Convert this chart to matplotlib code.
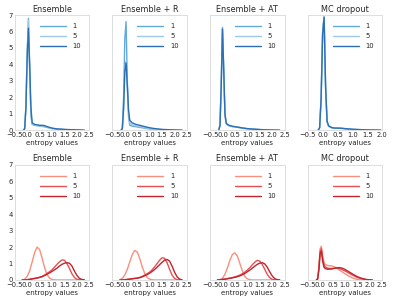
import matplotlib
matplotlib.use("Agg")
import matplotlib.pyplot as plt
import seaborn as sns

sns.set_style("white")
plt.rcParams['font.family'] = ['DejaVu Sans']

titles = ["Ensemble", "Ensemble + R", "Ensemble + AT", "MC dropout"]
labels = ["1", "5", "10"]
xticks_top = [[-0.5, 0.0, 0.5, 1.0, 1.5, 2.0, 2.5]] * 3 + [[-0.5, 0.0, 0.5, 1.0, 1.5, 2.0]]
xticks_bottom = [[-0.5, 0.0, 0.5, 1.0, 1.5, 2.0, 2.5]] * 4
blue_colors = ["#62aadb", "#9dc9e8", "#2a6fb3"]
red_colors = ["#fa8f7c", "#e65055", "#c0242d"]

# ---- top row (shared x grid per panel) ----
x_top = [-0.15, -0.10, -0.05, 0.0, 0.05, 0.10, 0.15, 0.20, 0.30, 0.40, 0.50,
         0.60, 0.70, 0.80, 1.00, 1.20, 1.50, 1.80, 2.00, 2.20, 2.30]
x_top_mc = [-0.15, -0.10, -0.05, 0.0, 0.05, 0.10, 0.15, 0.20, 0.30, 0.40, 0.50,
            0.60, 0.70, 0.80, 1.00, 1.20, 1.50, 1.70, 1.80, 1.90, 1.95]

ens_top_1 = [0, 0.1, 1.5, 4.8, 6.8, 3.6, 0.9, 0.35, 0.3, 0.28, 0.25, 0.23, 0.21, 0.17, 0.1, 0.07, 0.04, 0.02, 0.01, 0.005, 0]
ens_top_5 = [0, 0.1, 1.4, 4.7, 6.7, 3.7, 1.0, 0.38, 0.3, 0.29, 0.27, 0.25, 0.22, 0.18, 0.11, 0.07, 0.04, 0.02, 0.01, 0.005, 0]
ens_top_10 = [0, 0.1, 1.4, 4.4, 6.2, 4.0, 1.4, 0.45, 0.35, 0.33, 0.3, 0.3, 0.28, 0.22, 0.13, 0.08, 0.05, 0.03, 0.02, 0.01, 0]

ensr_top_1 = [0, 0.15, 2.0, 5.6, 6.6, 3.0, 0.8, 0.3, 0.25, 0.22, 0.2, 0.17, 0.15, 0.12, 0.08, 0.05, 0.03, 0.015, 0.01, 0.005, 0]
ensr_top_5 = [0, 0.1, 1.4, 3.7, 4.2, 2.6, 1.0, 0.45, 0.33, 0.28, 0.25, 0.22, 0.2, 0.16, 0.1, 0.06, 0.035, 0.02, 0.01, 0.005, 0]
ensr_top_10 = [0, 0.1, 1.3, 3.6, 4.1, 2.7, 1.2, 0.6, 0.45, 0.38, 0.33, 0.3, 0.26, 0.22, 0.15, 0.1, 0.05, 0.03, 0.015, 0.005, 0]

ensat_top_1 = [0, 0.3, 2.9, 6.25, 3.5, 0.9, 0.4, 0.32, 0.25, 0.22, 0.2, 0.18, 0.15, 0.12, 0.09, 0.07, 0.04, 0.02, 0.01, 0.005, 0]
ensat_top_5 = [0, 0.3, 2.8, 6.2, 3.6, 0.95, 0.42, 0.33, 0.26, 0.23, 0.21, 0.18, 0.16, 0.13, 0.09, 0.07, 0.04, 0.02, 0.01, 0.005, 0]
ensat_top_10 = [0, 0.3, 2.7, 6.15, 3.7, 1.0, 0.45, 0.35, 0.28, 0.24, 0.22, 0.19, 0.17, 0.14, 0.1, 0.07, 0.04, 0.02, 0.01, 0.005, 0]

mc_top_1 = [0, 0.15, 2.0, 6.0, 6.95, 2.5, 0.5, 0.25, 0.15, 0.12, 0.12, 0.12, 0.1, 0.08, 0.05, 0.04, 0.02, 0.01, 0.008, 0.004, 0]
mc_top_5 = [0, 0.15, 2.0, 5.9, 6.9, 2.6, 0.52, 0.26, 0.16, 0.13, 0.12, 0.12, 0.1, 0.08, 0.05, 0.04, 0.02, 0.01, 0.008, 0.004, 0]
mc_top_10 = [0, 0.15, 1.9, 5.8, 6.85, 2.7, 0.55, 0.27, 0.17, 0.13, 0.13, 0.12, 0.11, 0.09, 0.06, 0.04, 0.02, 0.01, 0.008, 0.004, 0]

# ---- bottom row ----
x_bot = [-0.2, -0.1, 0.0, 0.1, 0.2, 0.3, 0.4, 0.5, 0.6, 0.7, 0.8, 0.9, 1.0, 1.1,
         1.2, 1.3, 1.4, 1.5, 1.6, 1.7, 1.8, 1.9, 2.0, 2.1, 2.2, 2.3]

ens_bot_1 = [0, 0.05, 0.22, 0.55, 1.1, 1.67, 2.0, 1.85, 1.33, 0.75, 0.33, 0.11, 0.03, 0.005, 0, 0, 0, 0, 0, 0, 0, 0, 0, 0, 0, 0]
ens_bot_5 = [0, 0, 0.02, 0.05, 0.08, 0.1, 0.13, 0.17, 0.22, 0.3, 0.4, 0.5, 0.62, 0.78, 0.95, 1.1, 1.22, 1.2, 1.0, 0.7, 0.38, 0.15, 0.04, 0.01, 0, 0]
ens_bot_10 = [0, 0, 0.01, 0.03, 0.06, 0.09, 0.12, 0.15, 0.2, 0.27, 0.35, 0.43, 0.52, 0.62, 0.72, 0.85, 0.95, 1.02, 1.05, 1.02, 0.85, 0.55, 0.28, 0.1, 0.03, 0]

ensr_bot_1 = [0, 0.1, 0.3, 0.65, 1.1, 1.55, 1.8, 1.7, 1.3, 0.8, 0.4, 0.15, 0.05, 0.01, 0, 0, 0, 0, 0, 0, 0, 0, 0, 0, 0, 0]
ensr_bot_5 = [0, 0, 0.02, 0.04, 0.06, 0.08, 0.1, 0.12, 0.16, 0.22, 0.3, 0.38, 0.48, 0.62, 0.8, 1.0, 1.2, 1.35, 1.32, 1.05, 0.65, 0.3, 0.1, 0.02, 0, 0]
ensr_bot_10 = [0, 0, 0.01, 0.03, 0.05, 0.07, 0.09, 0.11, 0.14, 0.19, 0.26, 0.33, 0.42, 0.52, 0.64, 0.78, 0.93, 1.08, 1.2, 1.25, 1.15, 0.85, 0.48, 0.2, 0.06, 0]

ensat_bot_1 = [0, 0, 0.1, 0.35, 0.75, 1.2, 1.55, 1.65, 1.45, 1.0, 0.55, 0.22, 0.07, 0.02, 0, 0, 0, 0, 0, 0, 0, 0, 0, 0, 0, 0]
ensat_bot_5 = [0, 0.02, 0.04, 0.06, 0.09, 0.12, 0.15, 0.19, 0.24, 0.3, 0.38, 0.48, 0.6, 0.75, 0.92, 1.08, 1.19, 1.15, 0.95, 0.65, 0.35, 0.14, 0.04, 0.01, 0, 0]
ensat_bot_10 = [0, 0.01, 0.03, 0.05, 0.07, 0.1, 0.13, 0.16, 0.2, 0.25, 0.32, 0.4, 0.5, 0.6, 0.72, 0.84, 0.95, 1.02, 1.05, 0.98, 0.78, 0.5, 0.25, 0.09, 0.02, 0]

x_bot_mc = [-0.15, -0.1, -0.05, 0.0, 0.05, 0.1, 0.15, 0.2, 0.3, 0.4, 0.5, 0.6, 0.7, 0.8,
            0.9, 1.0, 1.1, 1.2, 1.3, 1.4, 1.5, 1.6, 1.7, 1.8, 1.9, 2.0, 2.1]
mc_bot_1 = [0, 0.1, 0.8, 1.9, 2.05, 1.5, 1.1, 0.95, 0.88, 0.86, 0.84, 0.78, 0.68, 0.58, 0.48, 0.38, 0.28, 0.2, 0.13, 0.07, 0.03, 0.01, 0, 0, 0, 0, 0]
mc_bot_5 = [0, 0.08, 0.7, 1.75, 1.9, 1.35, 0.95, 0.8, 0.72, 0.7, 0.7, 0.72, 0.72, 0.68, 0.62, 0.55, 0.47, 0.38, 0.3, 0.22, 0.15, 0.1, 0.06, 0.03, 0.01, 0, 0]
mc_bot_10 = [0, 0.05, 0.6, 1.6, 1.75, 1.15, 0.8, 0.7, 0.65, 0.66, 0.68, 0.72, 0.75, 0.75, 0.71, 0.64, 0.55, 0.46, 0.37, 0.28, 0.2, 0.14, 0.09, 0.05, 0.02, 0.01, 0]

top_x = [x_top, x_top, x_top, x_top_mc]
top_series = [
    [ens_top_1, ens_top_5, ens_top_10],
    [ensr_top_1, ensr_top_5, ensr_top_10],
    [ensat_top_1, ensat_top_5, ensat_top_10],
    [mc_top_1, mc_top_5, mc_top_10],
]
bot_x = [x_bot, x_bot, x_bot, x_bot_mc]
bot_series = [
    [ens_bot_1, ens_bot_5, ens_bot_10],
    [ensr_bot_1, ensr_bot_5, ensr_bot_10],
    [ensat_bot_1, ensat_bot_5, ensat_bot_10],
    [mc_bot_1, mc_bot_5, mc_bot_10],
]
top_xlims = [(-0.5, 2.5), (-0.5, 2.5), (-0.5, 2.5), (-0.5, 2.0)]
bot_xlims = [(-0.5, 2.5)] * 4

fig, axes = plt.subplots(2, 4, figsize=(3.99, 3.07), dpi=100, sharey=True)
fig.subplots_adjust(left=0.037, right=0.958, top=0.951, bottom=0.088,
                    wspace=0.31, hspace=0.30)

txt = "#262626"
for row, (xs_list, series, colors, xlims, xticks) in enumerate([
        (top_x, top_series, blue_colors, top_xlims, xticks_top),
        (bot_x, bot_series, red_colors, bot_xlims, xticks_bottom)]):
    for col in range(4):
        ax = axes[row, col]
        for ys, c, lab in zip(series[col], colors, labels):
            ax.plot(xs_list[col], ys, color=c, lw=1.0, label=lab)
        ax.set_xlim(*xlims[col])
        ax.set_ylim(0, 7)
        ax.set_xticks(xticks[col])
        ax.set_yticks(range(0, 8))
        ax.tick_params(axis='both', labelsize=4.9, colors=txt, pad=1.5, length=0)
        ax.set_title(titles[col], fontsize=5.9, color=txt, pad=2.5)
        ax.set_xlabel("entropy values", fontsize=5.0, color=txt, labelpad=1.5)
        for sp in ax.spines.values():
            sp.set_color("#dddddd")
            sp.set_linewidth(0.7)
        leg = ax.legend(loc="upper right", frameon=False, fontsize=4.9,
                        handlelength=3.8, labelspacing=0.6, borderaxespad=0.8,
                        handletextpad=1.0)
        for t in leg.get_texts():
            t.set_color(txt)

fig.savefig("out.png", dpi=100)
